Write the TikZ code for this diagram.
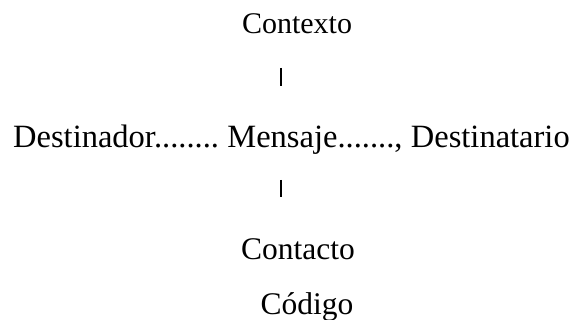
\documentclass[tikz,border=0pt]{standalone}
\usepackage{fontspec}
\setmainfont{Liberation Serif}
\usetikzlibrary{positioning}

\begin{document}
\begin{tikzpicture}[x=1pt,y=-1pt,
    palabra/.style={inner sep=0pt,anchor=base,font=\fontsize{31.5}{36}\selectfont},
    linea/.style={palabra,font=\fontsize{32.5}{36}\selectfont},
    barra/.style={line width=1.6pt}]

		\useasboundingbox (0,0) rectangle (575,320);

		\coordinate(B1) at (281,68);
		\coordinate(B2) at (281,86);
		\coordinate(B3) at (281,180);
		\coordinate(B4) at (281,197);

		\node[palabra, font=\fontsize{30}{34}\selectfont] (contexto) at (297,34) {Contexto};

		\node[linea, anchor=base west] (destinador) at (13,148) {Destinador........};
		\node[linea, base right=8pt of destinador] (mensaje) {Mensaje.......,};
		\node[linea, base right=8pt of mensaje] (destinatario) {Destinatario};

		\node[palabra] (contacto) at (298,259) {Contacto};
		\node[palabra] (codigo) at (307,314) {Código};

		\draw[barra] (B1)--(B2);
		\draw[barra] (B3)--(B4);

	\end{tikzpicture}
\end{document}
